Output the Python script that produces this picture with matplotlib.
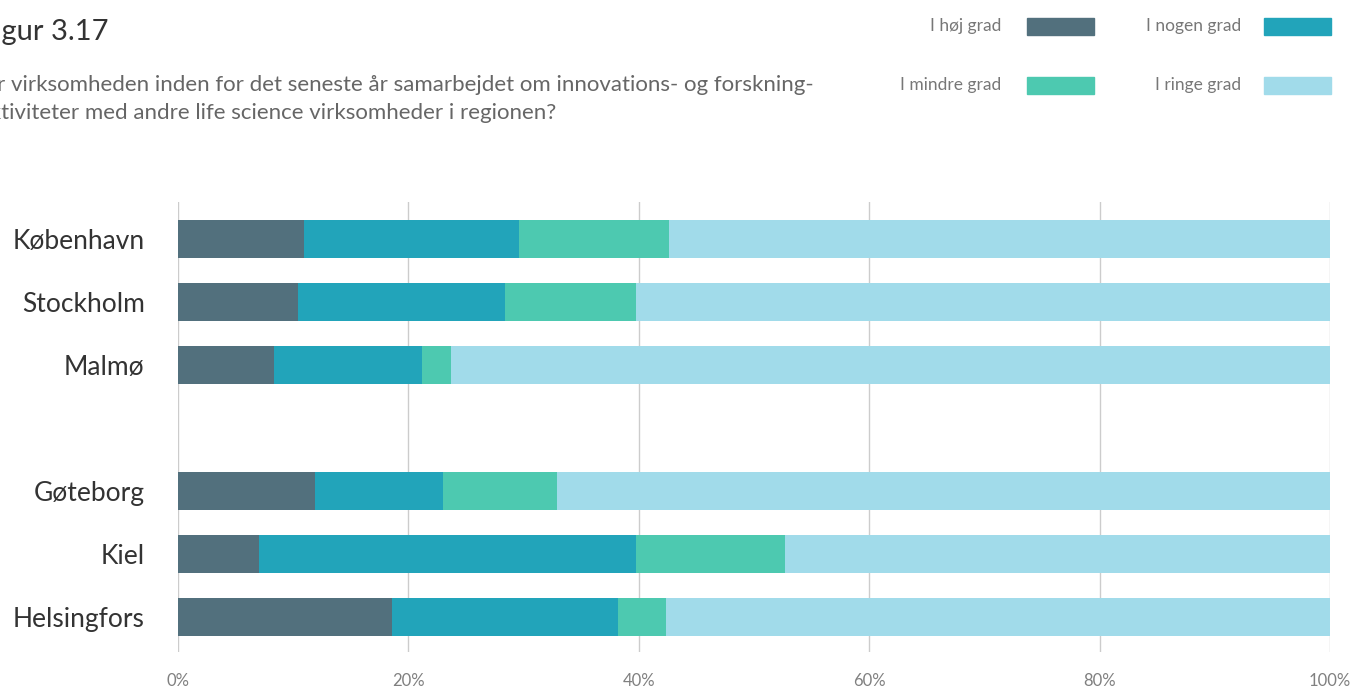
import numpy as np
import matplotlib.pyplot as plt
from matplotlib.patches import Rectangle

# data (andel i %)
regioner = ['København', 'Stockholm', 'Malmø', 'Gøteborg', 'Kiel', 'Helsingfors']
pos = [0, 1, 2, 4, 5, 6]
hoj = [10.9, 10.4, 8.3, 11.9, 7.0, 18.6]
nogen = [18.7, 18.0, 12.9, 11.1, 32.8, 19.6]
mindre = [13.0, 11.4, 2.5, 9.9, 12.9, 4.2]
ringe = [57.4, 60.2, 76.3, 67.1, 47.3, 57.6]

serier = ['I høj grad', 'I nogen grad', 'I mindre grad', 'I ringe grad']
farver = ['#52707d', '#22a4ba', '#4dc9b0', '#a1dbea']
ticks = [0, 20, 40, 60, 80, 100]
tick_labels = ['0%', '20%', '40%', '60%', '80%', '100%']

plt.rcParams['font.family'] = ['Lato', 'DejaVu Sans']

W, H = 1353, 689
fig = plt.figure(figsize=(W / 100, H / 100), dpi=100)
ax = fig.add_axes([178 / W, 1 - 652 / H, (1330 - 178) / W, (652 - 202) / H])

left = np.zeros(len(pos))
for vals, farve in zip([hoj, nogen, mindre, ringe], farver):
    ax.barh(pos, vals, left=left, height=0.61, color=farve, zorder=2)
    left += np.array(vals)

ax.set_xlim(0, 100)
ax.set_ylim(6.56, -0.59)
ax.set_xticks(ticks)
ax.set_xticklabels(tick_labels, fontsize=12, color='#808080')
ax.set_yticks(pos)
ax.set_yticklabels(regioner, fontsize=19, color='#333333')
ax.tick_params(length=0)
ax.tick_params(axis='x', pad=15)
ax.tick_params(axis='y', pad=24)
ax.grid(axis='x', color='#cccccc', linewidth=1, zorder=0)
for s in ax.spines.values():
    s.set_visible(False)

# titel og spørgsmål
fig.text(-22 / W, 1 - 32 / H, 'Figur 3.17', fontsize=21, color='#333333',
         va='center', ha='left')
fig.text(-31 / W, 1 - 85 / H, 'Har virksomheden inden for det seneste år samarbejdet om innovations- og forskning-',
         fontsize=16, color='#666666', va='center', ha='left')
fig.text(-31 / W, 1 - 113 / H, 'saktiviteter med andre life science virksomheder i regionen?',
         fontsize=16, color='#666666', va='center', ha='left')

# forklaring
leg_pos = [(1001, 1027, 26), (1241, 1264, 26), (1001, 1027, 85), (1241, 1264, 85)]
for navn, farve, (tx, rx, y) in zip(serier, farver, leg_pos):
    fig.text(tx / W, 1 - y / H, navn, fontsize=12.5, color='#777777',
             ha='right', va='center')
    fig.add_artist(Rectangle((rx / W, 1 - (y + 8.5) / H), 67 / W, 17 / H,
                             color=farve, transform=fig.transFigure))

fig.savefig('out.png', dpi=100)
